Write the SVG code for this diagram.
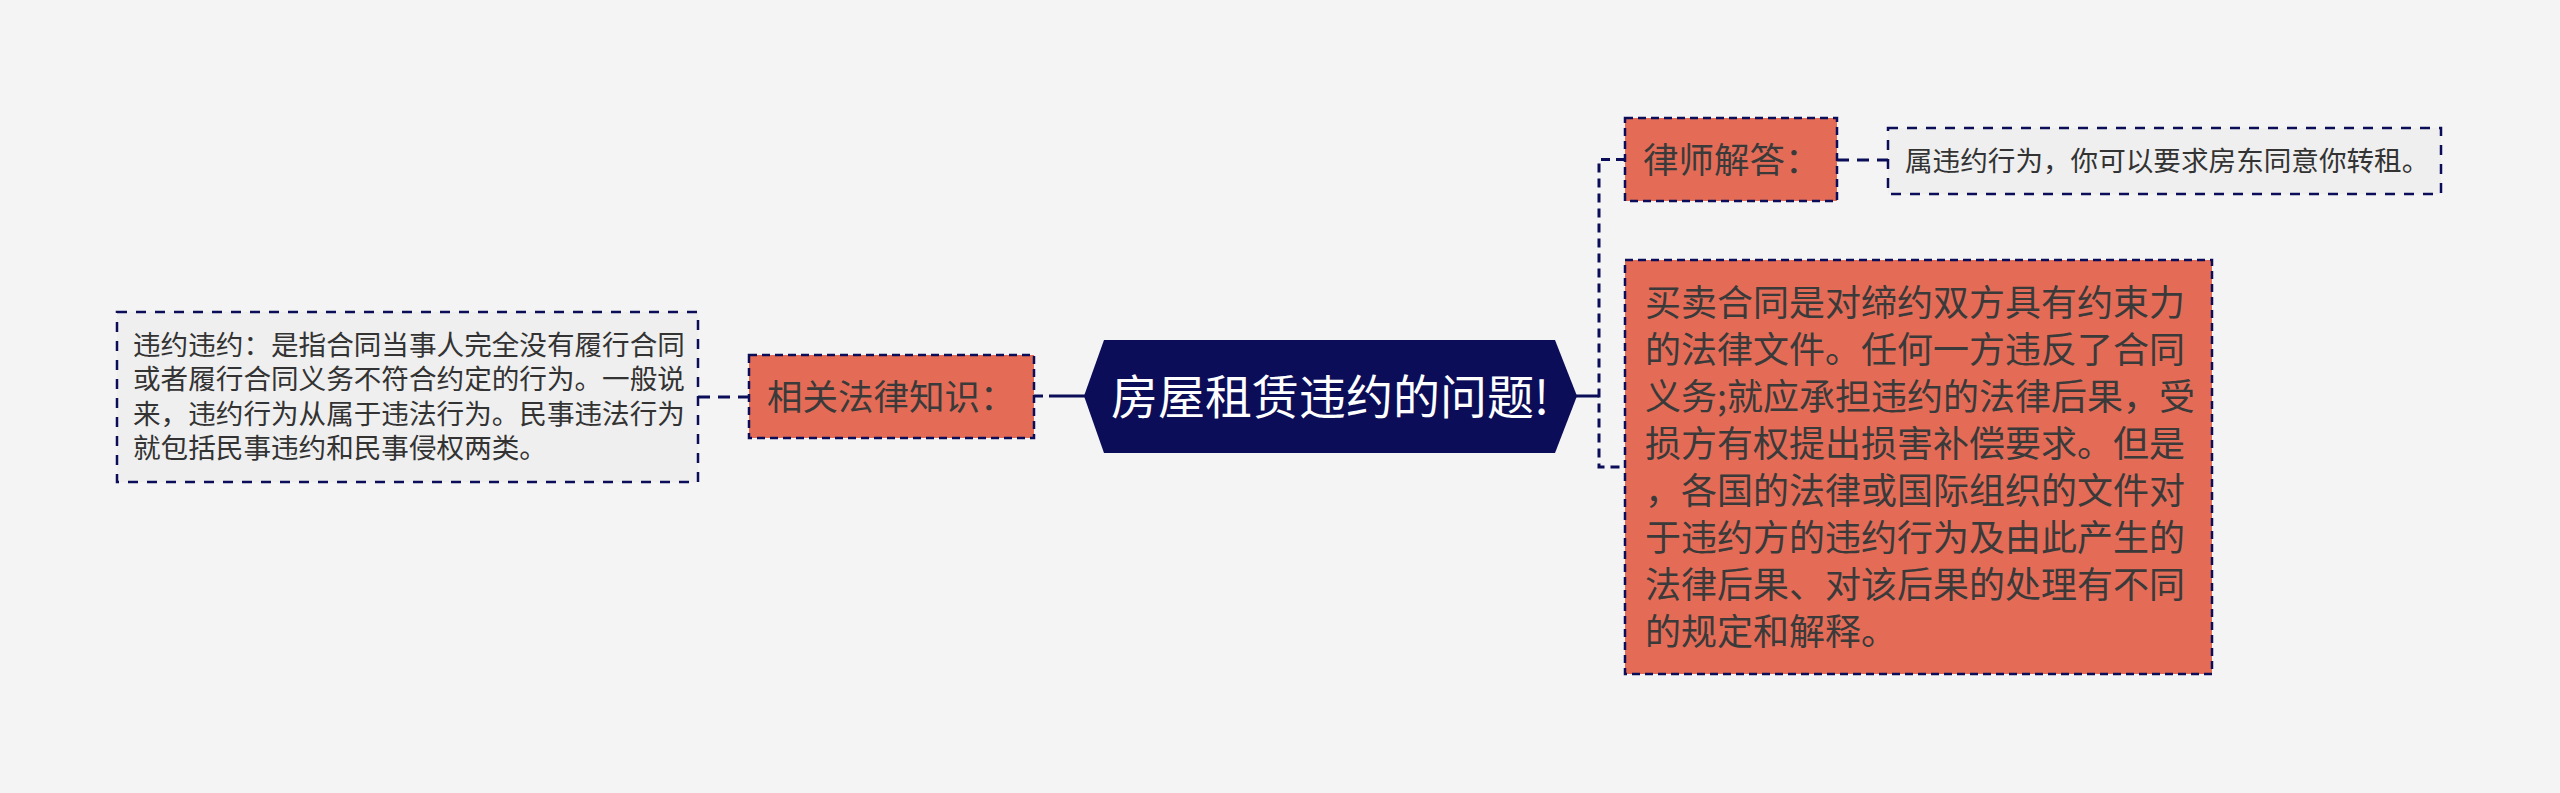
<svg xmlns="http://www.w3.org/2000/svg" width="2560" height="793" viewBox="0 0 2560 793">
<style>
  .bg { fill: #f4f4f4; }
  .hub { fill: #0b0d58; }
  .title { font-family: "Noto Sans CJK SC", "Noto Sans", sans-serif; font-size: 47px; fill: #ffffff; }
  .label { fill: #e46c57; stroke: #0b0d58; stroke-width: 2.5; stroke-dasharray: 8 5; }
  .note { fill: #efefef; stroke: #0b0d58; stroke-width: 2.5; stroke-dasharray: 10 9; }
  .t36 { font-family: "Noto Sans CJK SC", "Noto Sans", sans-serif; font-size: 35.5px; fill: #3a3a3a; }
  .t28 { font-family: "Noto Sans CJK SC", "Noto Sans", sans-serif; font-size: 27.6px; fill: #333333; }
  .conn { fill: none; stroke: #0b0d58; stroke-width: 3; stroke-dasharray: 9 6; }
  .solid { fill: none; stroke: #0b0d58; stroke-width: 3; }
</style>
<rect class="bg" x="0" y="0" width="2560" height="793"/>

<g id="connectors">
  <line class="solid" x1="1050" y1="396" x2="1085" y2="396"/>
  <line class="conn" x1="1034" y1="396" x2="1050" y2="396"/>
  <line class="conn" x1="698" y1="397" x2="749" y2="397" style="stroke-dasharray: 12 8"/>
  <line class="solid" x1="1576" y1="396" x2="1599" y2="396"/>
  <path class="conn" d="M1625,159.5 H1599 V467 H1625"/>
  <line class="conn" x1="1837" y1="160" x2="1888" y2="160" style="stroke-dasharray: 12 8"/>
</g>

<g id="center">
  <polygon class="hub" points="1084,396 1104,340 1555,340 1577,396 1555,453 1104,453"/>
  <text class="title" x="1330" y="414" text-anchor="middle">房屋租赁违约的问题!</text>
</g>

<g id="related-law">
  <rect class="label" x="749" y="355" width="285" height="83"/>
  <text class="t36" x="767" y="409.5">相关法律知识：</text>
</g>

<g id="related-law-note">
  <rect class="note" x="117" y="312" width="581" height="170"/>
  <text class="t28" x="133" y="354.5">违约违约：是指合同当事人完全没有履行合同</text>
  <text class="t28" x="133" y="389">或者履行合同义务不符合约定的行为。一般说</text>
  <text class="t28" x="133" y="423.5">来，违约行为从属于违法行为。民事违法行为</text>
  <text class="t28" x="133" y="458">就包括民事违约和民事侵权两类。</text>
</g>

<g id="lawyer-answer">
  <rect class="label" x="1625" y="118" width="212" height="83"/>
  <text class="t36" x="1643" y="173">律师解答：</text>
</g>

<g id="lawyer-answer-note">
  <rect class="note" x="1888" y="128" width="553" height="66"/>
  <text class="t28" x="1905" y="171">属违约行为，你可以要求房东同意你转租。</text>
</g>

<g id="contract-text">
  <rect class="label" x="1625" y="260" width="587" height="414"/>
  <text class="t36" style="font-size:36px" x="1645" y="316">买卖合同是对缔约双方具有约束力</text>
  <text class="t36" style="font-size:36px" x="1645" y="363">的法律文件。任何一方违反了合同</text>
  <text class="t36" style="font-size:36px" x="1645" y="410">义务;就应承担违约的法律后果，受</text>
  <text class="t36" style="font-size:36px" x="1645" y="457">损方有权提出损害补偿要求。但是</text>
  <text class="t36" style="font-size:36px" x="1645" y="504">，各国的法律或国际组织的文件对</text>
  <text class="t36" style="font-size:36px" x="1645" y="551">于违约方的违约行为及由此产生的</text>
  <text class="t36" style="font-size:36px" x="1645" y="598">法律后果、对该后果的处理有不同</text>
  <text class="t36" style="font-size:36px" x="1645" y="645">的规定和解释。</text>
</g>
</svg>
